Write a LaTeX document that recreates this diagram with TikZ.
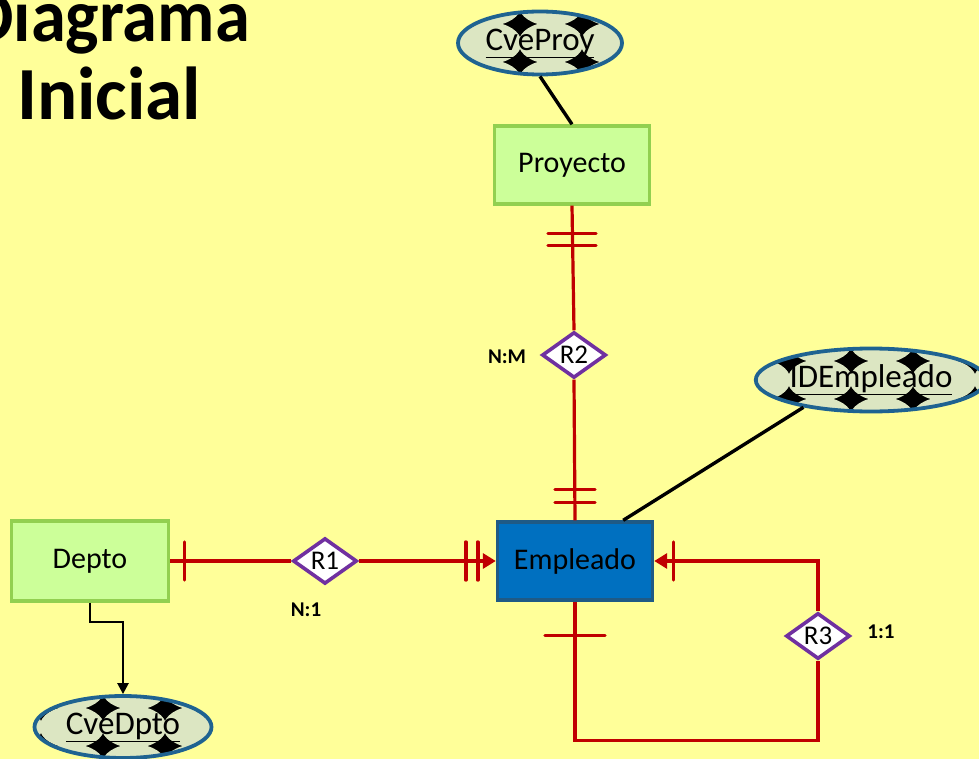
\documentclass[tikz,border=0pt]{standalone}
\usepackage{fontspec}
\setmainfont{Carlito}
\usetikzlibrary{shapes.geometric,arrows.meta,calc}
\definecolor{bg}{HTML}{FFFF99}
\definecolor{erred}{HTML}{C00000}
\definecolor{ent}{HTML}{CCFF99}
\definecolor{entb}{HTML}{92D050}
\definecolor{blueent}{HTML}{0070C0}
\definecolor{bluebd}{HTML}{1F5A85}
\definecolor{relb}{HTML}{7030A0}
\definecolor{attb}{HTML}{1F6391}
\definecolor{pale}{HTML}{DCE6C2}
\begin{document}
\begin{tikzpicture}[x=1pt,y=-1pt,
  entity/.style={draw=entb, fill=ent, line width=3.4pt, minimum width=155pt, minimum height=78pt, inner sep=0pt, font=\fontsize{30}{34}\selectfont},
  mainent/.style={entity, draw=bluebd, fill=blueent},
  rel/.style={shape=diamond, draw=relb, fill=white, line width=3.6pt, minimum width=64pt, minimum height=44pt, inner sep=0pt, font=\fontsize{27}{30}\selectfont},
  attr/.style={shape=ellipse, draw=attb, line width=3.8pt, inner sep=0pt, font=\fontsize{33}{36}\selectfont,
    path picture={
      \fill[black] (path picture bounding box.south west) rectangle (path picture bounding box.north east);
      \foreach \i in {-3,...,2} \foreach \j in {-1,0,1}
        \fill[pale] ([shift={(\i*62pt+11pt,\j*38pt)}]path picture bounding box.center) ellipse [x radius=32.5pt, y radius=20.8pt];
    }},
  rl/.style={draw=erred, line width=3.2pt},
  bar/.style={draw=erred, line width=3.4pt, line cap=round},
  bl/.style={draw=black, line width=3.4pt},
  card/.style={font=\fontsize{21}{24}\selectfont\bfseries},
  tip/.style={-{Triangle[length=13pt,width=15pt]}},
]
\fill[bg] (0,0) rectangle (979,759);
\useasboundingbox (0,0) rectangle (979,759);

% title
\node[anchor=base east, inner sep=0pt, xscale=0.94, font=\fontsize{75}{80}\selectfont\bfseries] (t1) at (250,42) {Diagrama};
\node[anchor=base west, inner sep=0pt, font=\fontsize{75}{80}\selectfont\bfseries] (t2) at (17,120) {Inicial};

% entities
\node[entity] (Proyecto) at (572,165) {Proyecto};
\node[entity, minimum width=157pt, minimum height=80pt] (Depto) at (90,561) {Depto};
\node[mainent] (Empleado) at (575,561) {Empleado};

% attributes
\node[attr, minimum width=164pt, minimum height=63pt] (CveProy) at (540,43) {\underline{CveProy}};
\node[attr, minimum width=212pt, minimum height=63pt] (IDEmpleado) at (871,380) {\underline{IDEmpleado}};
\node[attr, minimum width=177pt, minimum height=62pt] (CveDpto) at (123,727) {\underline{CveDpto}};

% relationships
\node[rel] (R2) at (574,355) {R2};
\node[rel] (R1) at (325,561) {R1};
\node[rel] (R3) at (818,636) {R3};

% cardinality labels
\node[card] (lNM) at (507,357) {N:M};
\node[card] (lN1) at (306,610) {N:1};
\node[card] (l11) at (881,632) {1:1};

% attribute links
\draw[bl] (CveProy.south) -- (Proyecto.north);
\draw[bl] (IDEmpleado.202) -- ($(Empleado.north east)+(-31,0)$);
\draw[bl, -{Triangle[length=11pt,width=11pt]}, line width=2.4pt] (Depto.south) -- ++(0,19) -| (CveDpto.north);

% R2
\draw[rl] (Proyecto.south) -- (R2.north);
\draw[bar] ($(Proyecto.south)+(-24,28)$) -- ++(48,0);
\draw[bar] ($(Proyecto.south)+(-24,40)$) -- ++(48,0);
\draw[rl] (R2.south) -- (Empleado.north);
\draw[bar] ($(Empleado.north)+(-20,-31)$) -- ++(40,0);
\draw[bar] ($(Empleado.north)+(-20,-18)$) -- ++(40,0);

% R1
\draw[rl] (Depto.east) -- (R1.west);
\draw[bar] ($(Depto.east)+(14,-19)$) -- ++(0,38);
\draw[rl, tip] (R1.east) -- (Empleado.west);
\draw[bar] ($(Empleado.west)+(-30,-19)$) -- ++(0,38);
\draw[bar] ($(Empleado.west)+(-18,-19)$) -- ++(0,38);

% R3
\draw[rl, tip] (R3.north) |- (Empleado.east);
\draw[bar] ($(Empleado.east)+(19,-19)$) -- ++(0,38);
\draw[rl] (R3.south) -- ++(0,80) -| (Empleado.south);
\draw[bar] ($(Empleado.south)+(-30,34)$) -- ++(60,0);
\end{tikzpicture}
\end{document}
